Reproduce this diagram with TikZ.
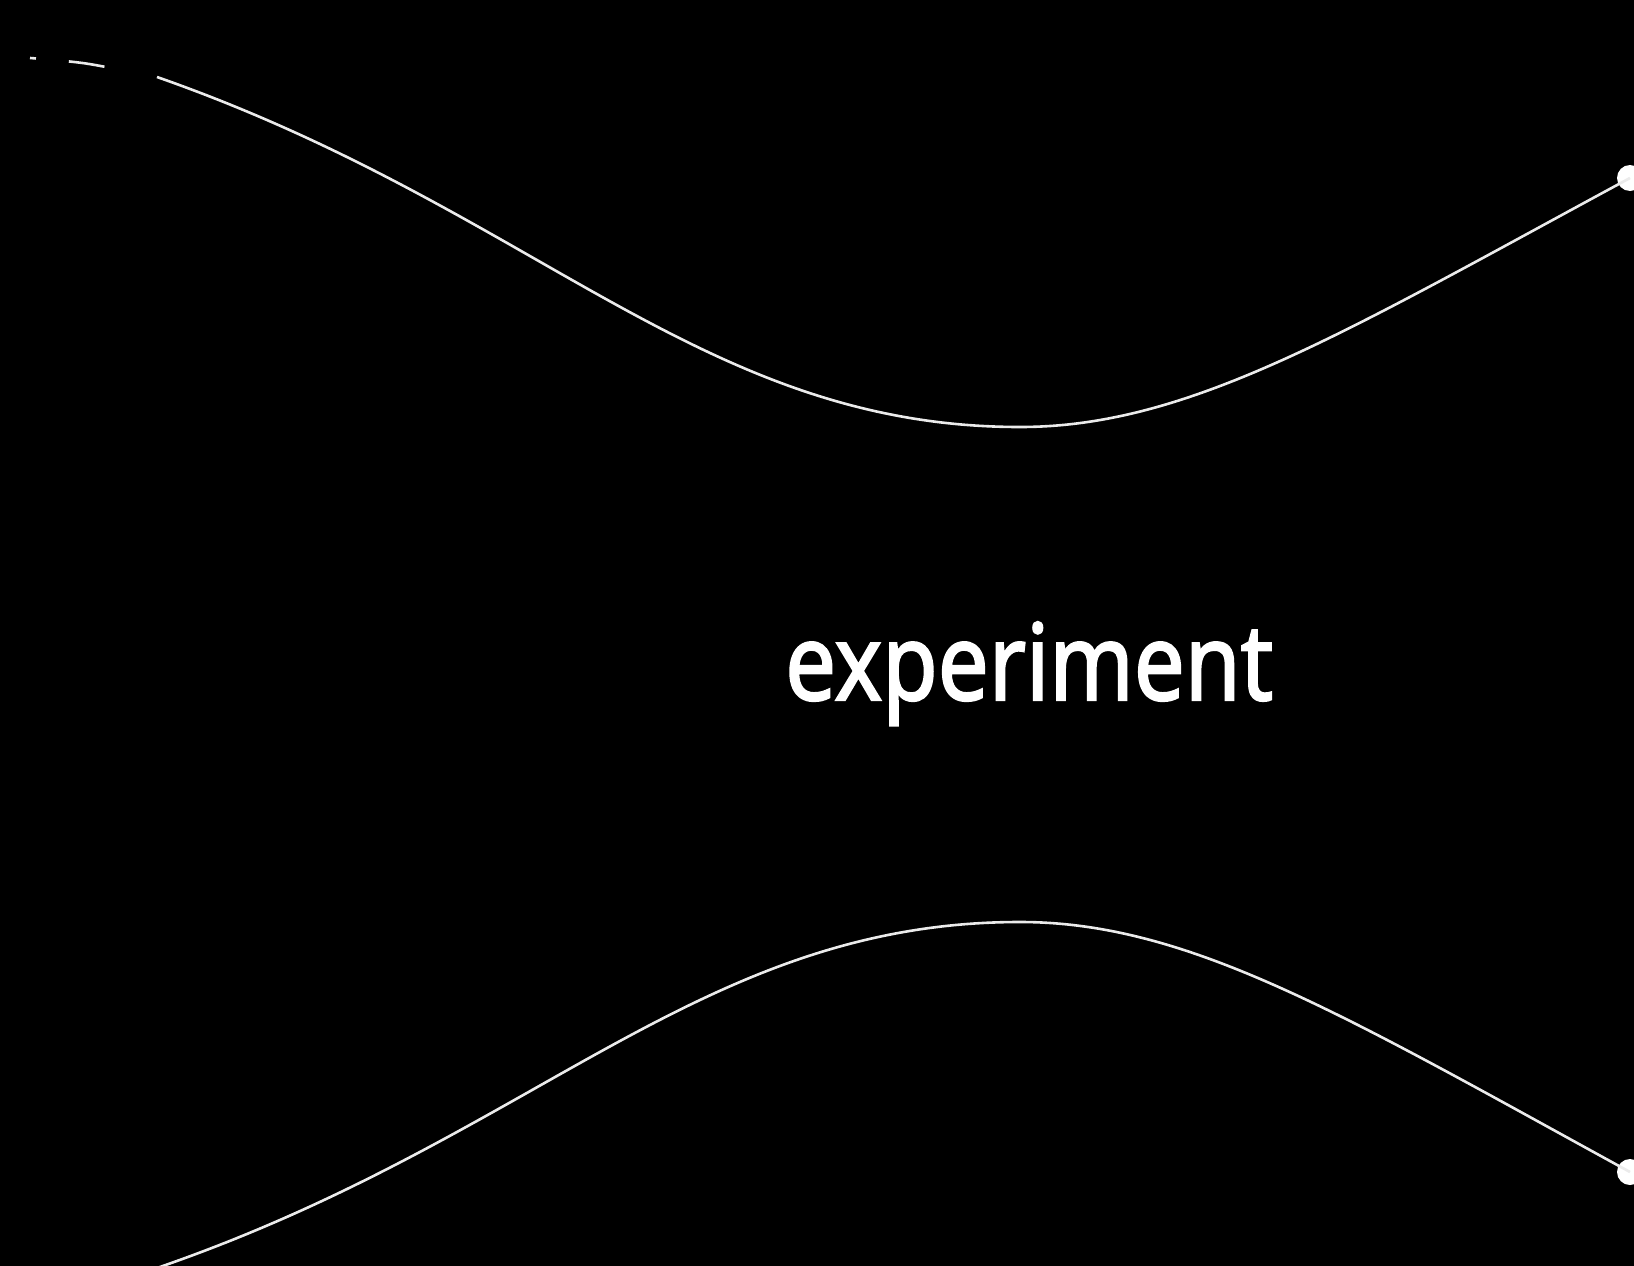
\documentclass[tikz,border=0pt]{standalone}
\usepackage{fontspec}
\setmainfont{Noto Sans}
\newfontfamily\lblfont{Noto Sans}[FakeBold=2]
\usepackage{graphicx}
\begin{document}
\begin{tikzpicture}[x=1pt,y=-1pt,
  beam/.style={draw=white!92!black,line width=2.6pt},
  enddot/.style={circle,fill=white,inner sep=0pt,minimum size=26pt},
  label/.style={text=white,inner sep=0pt,anchor=base west,font=\lblfont\fontsize{106}{120}\selectfont}]
\fill[black] (0,0) rectangle (1634,1266);
\useasboundingbox (0,0) rectangle (1634,1266);
\begin{scope}
\clip (0,0) rectangle (1634,1266);
\node[enddot] (topdot) at (1630,178) {};
\node[enddot] (botdot) at (1630,1172) {};
\coordinate (topstart) at (157,77);
\coordinate (topwaist) at (1020,427);
\coordinate (botstart) at (127,1278);
\coordinate (botwaist) at (1020,922);
% dashed lead-in of the upper curve
\draw[beam,dash pattern=on 6pt off 33pt on 36pt off 60pt] plot[smooth] coordinates {(30,58) (86,63.5) (157,77)};
% upper curve
\draw[beam] (topstart) .. controls (537,210) and (700,427) .. (topwaist)
                       .. controls (1190,427) and (1345,332) .. (topdot.center);
% lower curve
\draw[beam] (botstart) -- (157,1268) .. controls (537,1137) and (700,922) .. (botwaist)
                       .. controls (1190,922) and (1345,1016) .. (botdot.center);
\end{scope}
\node[label] (lbl) at (785,700) {\resizebox{488pt}{\height}{experiment}};
\end{tikzpicture}
\end{document}
